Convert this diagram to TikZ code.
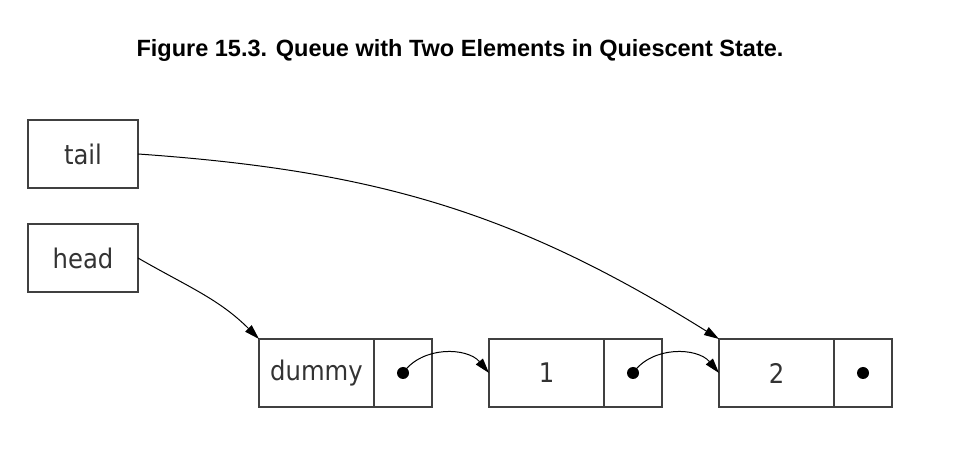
\documentclass[tikz,border=0pt]{standalone}
\usepackage{fontspec}
\setmainfont{DejaVu Sans Condensed}
\newfontfamily\titlefont{Liberation Sans}
\usetikzlibrary{arrows.meta,positioning}

\begin{document}
\begin{tikzpicture}[
  x=1pt, y=1pt,
  box/.style={draw=black!75, line width=1.2pt, minimum height=68pt, inner sep=0pt, outer sep=0pt,
    text=black!80, font=\fontsize{27}{30}\selectfont},
  var/.style={box, minimum width=110pt},
  cell/.style={box, minimum width=115pt},
  ptr/.style={box, minimum width=58pt},
  dot/.style={circle, fill=black, inner sep=0pt, minimum size=12pt},
  link/.style={-{Triangle[length=15pt, width=9pt]}, line width=1pt},
]
  \useasboundingbox (0,0) rectangle (966,468);
  \node[font=\titlefont\bfseries\fontsize{23.5}{26}\selectfont] (title) at (460,418)
    {Figure 15.3. Queue with Two Elements in Quiescent State.};

  \node[var] (tail) at (83,314) {tail};
  \node[var] (head) at (83,210) {head};

  \node[cell] (dummy) at (316.5,95) {dummy};
  \node[ptr, right=0pt of dummy] (dummyp) {};
  \node[cell, right=57pt of dummyp] (one) {1};
  \node[ptr, right=0pt of one] (onep) {};
  \node[cell, right=57pt of onep] (two) {2};
  \node[ptr, right=0pt of two] (twop) {};

  \node[dot] (d0) at (dummyp.center) {};
  \node[dot] (d1) at (onep.center) {};
  \node[dot] (d2) at (twop.center) {};

  \draw[link] (tail.east) to[out=-4, in=148] (two.north west);
  \draw[link] (head.east) to[out=-30, in=135] (dummy.north west);
  \draw[link] (d0.center) to[out=55, in=130] (one.west);
  \draw[link] (d1.center) to[out=55, in=130] (two.west);
\end{tikzpicture}
\end{document}
